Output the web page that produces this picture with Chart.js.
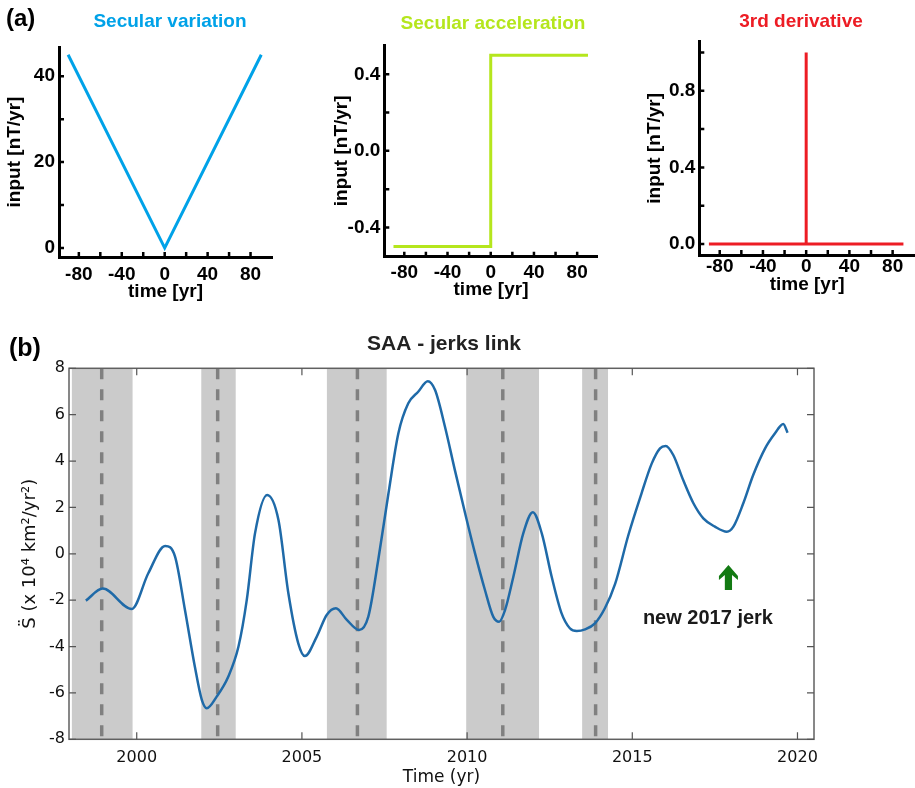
<!DOCTYPE html>
<html>
<head>
<meta charset="utf-8">
<title>SAA - jerks link</title>
<script src="https://cdn.jsdelivr.net/npm/chart.js@4.4.1/dist/chart.umd.min.js"></script>
<style>
  html, body { margin: 0; padding: 0; background: #fff; }
  #page { position: relative; width: 915px; height: 788px; overflow: hidden; }
  .panel { position: absolute; }
  .panel canvas { display: block; }
</style>
</head>
<body>
<div id="page">
  <div class="panel" style="left:0;top:0"><canvas id="svChart" width="300" height="310"></canvas></div>
  <div class="panel" style="left:300px;top:0"><canvas id="saChart" width="310" height="310"></canvas></div>
  <div class="panel" style="left:605px;top:0"><canvas id="d3Chart" width="310" height="310"></canvas></div>
  <div class="panel" style="left:0;top:320px"><canvas id="saaChart" width="915" height="468"></canvas></div>
</div>
<script>
// ---- panel (a): synthetic jerk input ----
const smallTime = [-80, -60, -40, -20, 0, 20, 40, 60, 80];
const smallTimeLabels = [-80, -40, 0, 40, 80];

const svTime = [-90, 0, 90];
const svInput = [45, 0, 45];
const svTicks = [0, 10, 20, 30, 40];
const svTickLabels = [0, 20, 40];

const saTime = [-90, 0, 0, 90];
const saInput = [-0.5, -0.5, 0.5, 0.5];
const saTicks = [-0.4, -0.2, 0, 0.2, 0.4];
const saTickLabels = [-0.4, 0, 0.4];

const d3Time = [-90, 0, 0, 0, 90];
const d3Input = [0, 0, 1, 0, 0];
const d3Ticks = [0, 0.2, 0.4, 0.6, 0.8, 1.0];
const d3TickLabels = [0, 0.4, 0.8];

// ---- panel (b): second derivative of SAA area ----
const saaYear = [1998.46, 1998.97, 1999.85, 2000.35, 2000.86, 2001.16, 2001.46, 2001.76, 2001.97, 2002.12,
  2002.42, 2002.77, 2003.08, 2003.33, 2003.58, 2003.95, 2004.29, 2004.59, 2004.89, 2005.09,
  2005.45, 2005.75, 2006.03, 2006.36, 2006.73, 2007.01, 2007.31, 2007.62, 2007.92, 2008.22,
  2008.52, 2008.81, 2009.03, 2009.33, 2009.63, 2009.94, 2010.24, 2010.54, 2010.79, 2010.97,
  2011.15, 2011.40, 2011.70, 2011.99, 2012.26, 2012.56, 2012.86, 2013.11, 2013.32, 2013.57,
  2013.87, 2014.17, 2014.48, 2014.88, 2015.28, 2015.59, 2015.84, 2016.01, 2016.24, 2016.54,
  2016.85, 2017.15, 2017.50, 2017.86, 2018.06, 2018.36, 2018.66, 2019.02, 2019.32, 2019.57,
  2019.70];
const saaValue = [-2.02, -1.50, -2.38, -0.84, 0.34, -0.12, -2.42, -4.87, -6.30, -6.66,
  -6.16, -5.30, -4.00, -2.00, 0.88, 2.54, 1.46, -1.70, -3.86, -4.41,
  -3.57, -2.64, -2.35, -2.85, -3.29, -2.71, -0.27, 2.61, 5.20, 6.49,
  6.99, 7.44, 7.06, 5.48, 3.61, 1.75, 0.02, -1.56, -2.71, -2.93,
  -2.42, -0.99, 0.88, 1.79, 0.88, -0.99, -2.57, -3.21, -3.33, -3.26,
  -3.00, -2.35, -1.30, 0.80, 2.61, 3.90, 4.55, 4.65, 4.26, 3.18,
  2.18, 1.53, 1.17, 0.95, 1.17, 2.18, 3.40, 4.55, 5.20, 5.60,
  5.22];
const saaYearTicks = [2000, 2005, 2010, 2015, 2020];
const saaValueTicks = [-8, -6, -4, -2, 0, 2, 4, 6, 8];

const jerkYear = [1998.94, 2002.45, 2006.68, 2011.08, 2013.89];
const jerkStart = [1998.03, 2001.95, 2005.75, 2009.97, 2013.48];
const jerkEnd = [1999.88, 2003.00, 2007.57, 2012.18, 2014.27];

const newJerkYear = 2017.91;
const newJerkArrow = [-1.56, -0.48]; // base, tip
const newJerkText = ['new 2017 jerk', 2017.29, -2.78];

const ARIAL = '"Liberation Sans", Arial, Helvetica, sans-serif';
const DEJAVU = '"DejaVu Sans", Verdana, sans-serif';

const hasLabel = (list, v) => list.some(l => Math.abs(l - v) < 1e-9);

// tick marks pointing into the plot, optional box around it
const innerTicks = {
    id: 'innerTicks',
    afterDraw(chart, args, opts) {
        const {ctx, chartArea: a, scales: {x, y}} = chart;
        ctx.save();
        if (opts.frame) {
            ctx.strokeStyle = opts.frameColor;
            ctx.lineWidth = opts.frameWidth;
            ctx.strokeRect(a.left, a.top, a.right - a.left, a.bottom - a.top);
        }
        ctx.strokeStyle = opts.color;
        ctx.lineWidth = opts.width;
        ctx.beginPath();
        x.ticks.forEach(t => {
            const px = x.getPixelForValue(t.value);
            ctx.moveTo(px, a.bottom);
            ctx.lineTo(px, a.bottom - opts.len);
            if (opts.mirror) {
                ctx.moveTo(px, a.top);
                ctx.lineTo(px, a.top + opts.len);
            }
        });
        y.ticks.forEach(t => {
            const py = y.getPixelForValue(t.value);
            ctx.moveTo(a.left, py);
            ctx.lineTo(a.left + opts.len, py);
            if (opts.mirror) {
                ctx.moveTo(a.right, py);
                ctx.lineTo(a.right - opts.len, py);
            }
        });
        ctx.stroke();
        ctx.restore();
    }
};

// free text (panel letters and titles)
const panelText = {
    id: 'panelText',
    afterDraw(chart, args, opts) {
        const ctx = chart.ctx;
        (opts.items || []).forEach(it => {
            ctx.save();
            ctx.font = it.font;
            ctx.fillStyle = it.color;
            ctx.textAlign = it.align || 'center';
            ctx.textBaseline = 'middle';
            ctx.fillText(it.text, it.x, it.y);
            ctx.restore();
        });
    }
};

// green arrow + label for the 2017 jerk
const newJerkNote = {
    id: 'newJerkNote',
    afterDatasetsDraw(chart) {
        const {ctx, scales: {x, y}} = chart;
        const px = x.getPixelForValue(newJerkYear);
        const tip = y.getPixelForValue(newJerkArrow[1]);
        const base = y.getPixelForValue(newJerkArrow[0]);
        ctx.save();
        ctx.fillStyle = '#137a13';
        ctx.beginPath();
        ctx.moveTo(px, tip);
        ctx.lineTo(px + 9.5, tip + 11);
        ctx.lineTo(px + 9.5, tip + 15);
        ctx.lineTo(px + 3.6, tip + 10);
        ctx.lineTo(px + 3.6, base);
        ctx.lineTo(px - 3.6, base);
        ctx.lineTo(px - 3.6, tip + 10);
        ctx.lineTo(px - 9.5, tip + 15);
        ctx.lineTo(px - 9.5, tip + 11);
        ctx.closePath();
        ctx.fill();
        ctx.font = 'bold 20px ' + ARIAL;
        ctx.fillStyle = '#1a1a1a';
        ctx.textAlign = 'center';
        ctx.textBaseline = 'middle';
        ctx.fillText(newJerkText[0], x.getPixelForValue(newJerkText[1]), y.getPixelForValue(newJerkText[2]));
        ctx.restore();
    }
};

const boldFont = size => ({family: ARIAL, size: size, weight: 'bold'});

const smallChart = (id, cfg) => new Chart(document.getElementById(id), {
    type: 'line',
    data: {
        datasets: [{
            data: cfg.time.map((t, i) => ({x: t, y: cfg.input[i]})),
            borderColor: cfg.color,
            borderWidth: 3,
            pointRadius: 0,
            tension: 0,
            fill: false
        }]
    },
    options: {
        responsive: false,
        animation: false,
        events: [],
        layout: {padding: cfg.pad},
        plugins: {
            legend: {display: false},
            tooltip: {enabled: false},
            innerTicks: {len: 5, width: 2.5, color: '#000'},
            panelText: {items: cfg.text}
        },
        scales: {
            x: {
                type: 'linear',
                min: cfg.xRange[0],
                max: cfg.xRange[1],
                afterBuildTicks: s => { s.ticks = smallTime.map(v => ({value: v})); },
                afterFit: s => { s.height = cfg.xHeight; },
                grid: {display: false, drawTicks: false},
                border: {display: true, color: '#000', width: 3},
                ticks: {
                    autoSkip: false, maxRotation: 0, padding: cfg.xPad, color: '#000', font: boldFont(19),
                    callback: v => hasLabel(smallTimeLabels, v) ? String(v) : ''
                },
                title: {display: true, text: 'time [yr]', color: '#000', font: boldFont(19),
                    padding: {top: 0, bottom: cfg.xTitlePad}}
            },
            y: {
                type: 'linear',
                min: cfg.yRange[0],
                max: cfg.yRange[1],
                afterBuildTicks: s => { s.ticks = cfg.yTicks.map(v => ({value: v})); },
                afterFit: s => { s.width = cfg.yWidth; },
                grid: {display: false, drawTicks: false},
                border: {display: true, color: '#000', width: 3},
                ticks: {
                    autoSkip: false, padding: 4, color: '#000', font: boldFont(19),
                    callback: v => hasLabel(cfg.yLabels, v) ? cfg.fmt(v) : ''
                },
                title: {display: true, text: 'input [nT/yr]', color: '#000', font: boldFont(19),
                    padding: {top: cfg.yTitlePad, bottom: 0}}
            }
        }
    },
    plugins: [innerTicks, panelText]
});

smallChart('svChart', {
    time: svTime, input: svInput, color: '#00a2e8',
    xRange: [-98.5, 100], yRange: [-2.1, 46.8],
    yTicks: svTicks, yLabels: svTickLabels, fmt: v => String(v),
    pad: {left: 0, top: 47, right: 28, bottom: 0},
    xHeight: 53, yWidth: 59, xPad: 6.3, xTitlePad: 6.9, yTitlePad: 3.6,
    text: [
        {text: '(a)', x: 6, y: 19, font: 'bold 24px ' + ARIAL, color: '#000', align: 'left'},
        {text: 'Secular variation', x: 170, y: 22, font: 'bold 19px ' + ARIAL, color: '#00a2e8'}
    ]
});

smallChart('saChart', {
    time: saTime, input: saInput, color: '#b5e61d',
    xRange: [-98.5, 99], yRange: [-0.553, 0.553],
    yTicks: saTicks, yLabels: saTickLabels, fmt: v => v.toFixed(1),
    pad: {left: 0, top: 45, right: 12.3, bottom: 0},
    xHeight: 53.3, yWidth: 84.3, xPad: 4.9, xTitlePad: 8.6, yTitlePad: 30.3,
    text: [
        {text: 'Secular acceleration', x: 193, y: 24, font: 'bold 19px ' + ARIAL, color: '#b5e61d'}
    ]
});

smallChart('d3Chart', {
    time: d3Time, input: d3Input, color: '#ed1c24',
    xRange: [-98.9, 100.7], yRange: [-0.057, 1.056],
    yTicks: d3Ticks, yLabels: d3TickLabels, fmt: v => v.toFixed(1),
    pad: {left: 0, top: 41.7, right: 0, bottom: 0},
    xHeight: 55, yWidth: 94.3, xPad: 0.5, xTitlePad: 13.6, yTitlePad: 38.6,
    text: [
        {text: '3rd derivative', x: 196, y: 22, font: 'bold 19px ' + ARIAL, color: '#ed1c24'}
    ]
});

// ---- panel (b) ----
const bandSets = jerkStart.map((s, i) => ({
    data: [{x: s, y: 8}, {x: jerkEnd[i], y: 8}],
    borderColor: 'rgba(0,0,0,0)',
    borderWidth: 0,
    backgroundColor: '#cbcbcb',
    pointRadius: 0,
    fill: 'start',
    order: 3
}));

const jerkLineSets = jerkYear.map(t => ({
    data: [{x: t, y: 8}, {x: t, y: -8}],
    borderColor: '#808080',
    borderWidth: 3.5,
    borderDash: [11, 10],
    pointRadius: 0,
    fill: false,
    order: 2
}));

const curveSet = {
    data: saaYear.map((t, i) => ({x: t, y: saaValue[i]})),
    borderColor: '#1f6aa8',
    borderWidth: 2.5,
    pointRadius: 0,
    cubicInterpolationMode: 'monotone',
    fill: false,
    order: 1
};

new Chart(document.getElementById('saaChart'), {
    type: 'line',
    data: {datasets: [...bandSets, ...jerkLineSets, curveSet]},
    options: {
        responsive: false,
        animation: false,
        events: [],
        layout: {padding: {left: 0, top: 48.3, right: 101, bottom: 0}},
        plugins: {
            legend: {display: false},
            tooltip: {enabled: false},
            innerTicks: {len: 7, width: 1.2, color: '#555', mirror: true, frame: true, frameColor: '#606060', frameWidth: 1.5},
            panelText: {items: [
                {text: '(b)', x: 9, y: 29, font: 'bold 25px ' + ARIAL, color: '#000', align: 'left'},
                {text: 'SAA - jerks link', x: 444, y: 24, font: 'bold 21px ' + ARIAL, color: '#222'}
            ]}
        },
        scales: {
            x: {
                type: 'linear',
                min: 1997.95,
                max: 2020.5,
                afterBuildTicks: s => { s.ticks = saaYearTicks.map(v => ({value: v})); },
                afterFit: s => { s.height = 48.7; },
                grid: {display: false, drawTicks: false},
                border: {display: false},
                ticks: {autoSkip: false, maxRotation: 0, padding: 8.8, color: '#111',
                    font: {family: DEJAVU, size: 16}, callback: v => String(v)},
                title: {display: true, text: 'Time (yr)', color: '#111',
                    font: {family: DEJAVU, size: 17}, padding: {top: 0, bottom: 0}}
            },
            y: {
                type: 'linear',
                min: -8,
                max: 8,
                afterBuildTicks: s => { s.ticks = saaValueTicks.map(v => ({value: v})); },
                afterFit: s => { s.width = 69; },
                grid: {display: false, drawTicks: false},
                border: {display: false},
                ticks: {autoSkip: false, padding: 4, color: '#111',
                    font: {family: DEJAVU, size: 16}, callback: v => String(v)},
                title: {display: true, text: 'S\u0308 (x 10\u2074 km\u00b2/yr\u00b2)', color: '#111',
                    font: {family: DEJAVU, size: 18}, padding: {top: 19.2, bottom: 0}}
            }
        }
    },
    plugins: [innerTicks, panelText, newJerkNote]
});
</script>
</body>
</html>
